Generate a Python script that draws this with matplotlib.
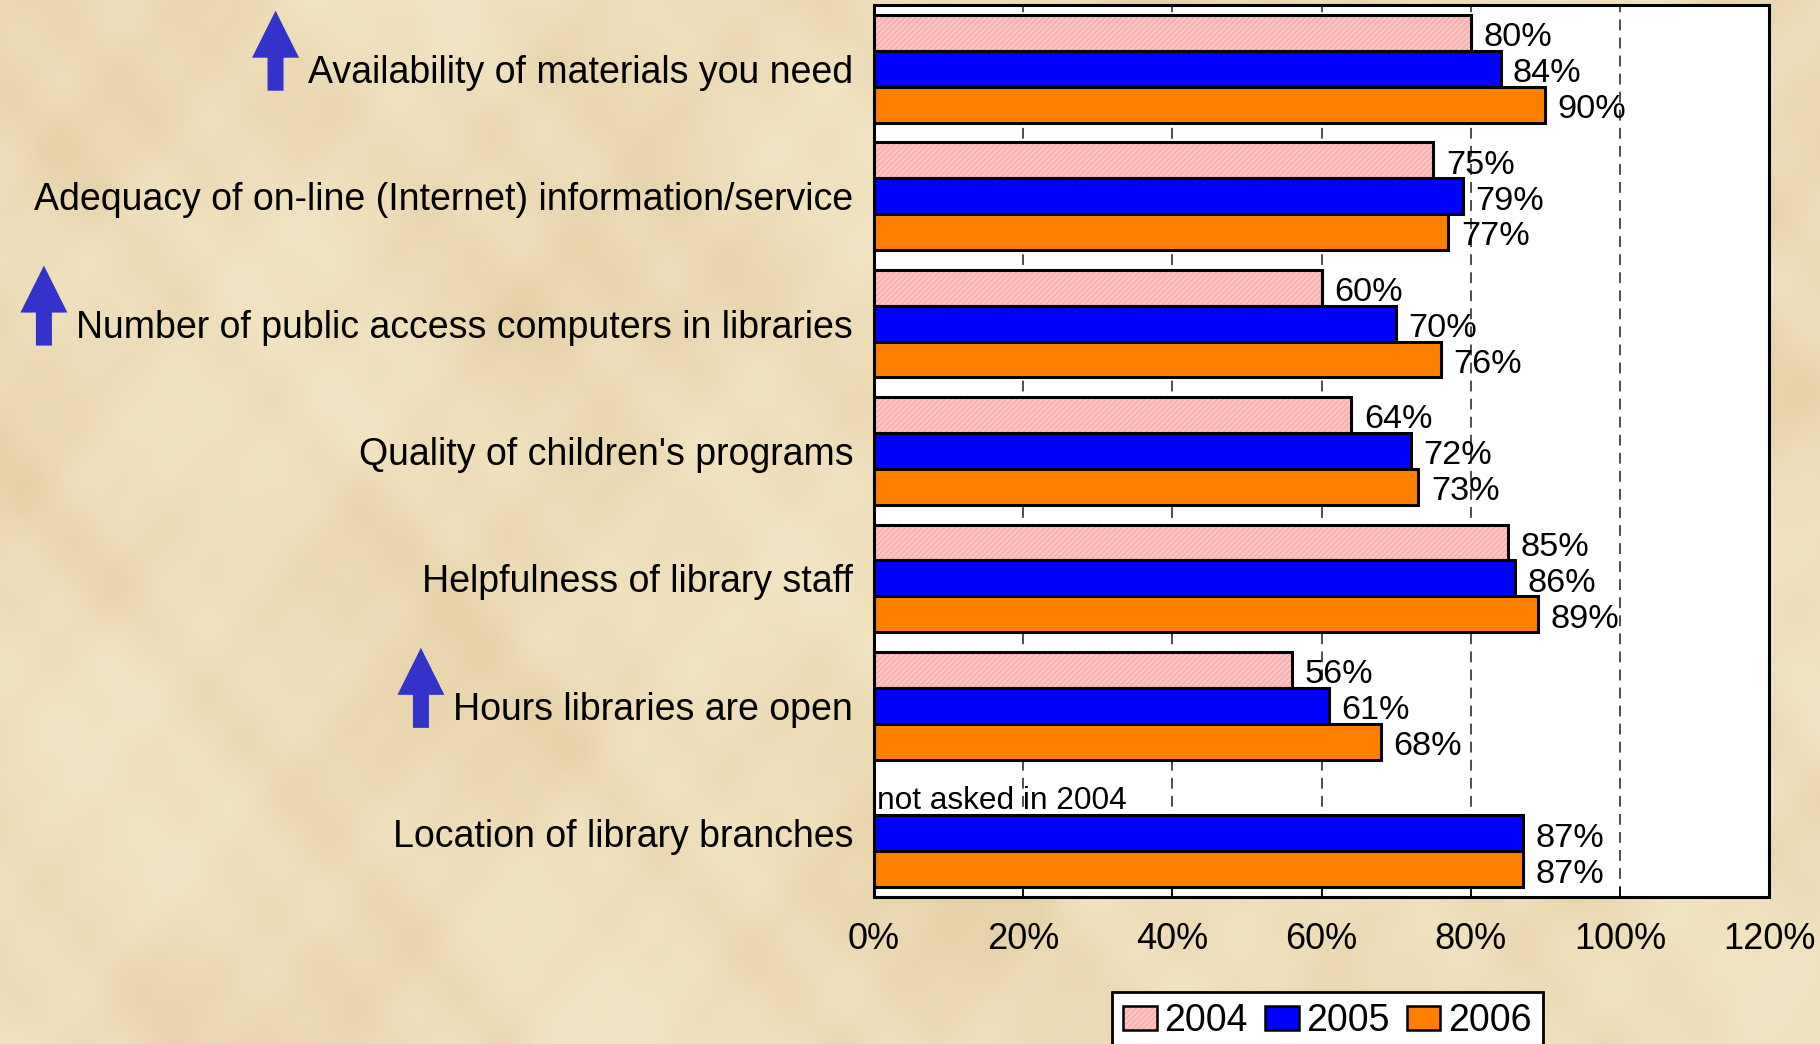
import numpy as np
import matplotlib
matplotlib.use("Agg")
import matplotlib.pyplot as plt
from matplotlib.patches import Patch, Polygon

plt.rcParams['font.family'] = ['Liberation Sans', 'DejaVu Sans']

# --- data -----------------------------------------------------------------
categories = [
    "Availability of materials you need",
    "Adequacy of on-line (Internet) information/service",
    "Number of public access computers in libraries",
    "Quality of children's programs",
    "Helpfulness of library staff",
    "Hours libraries are open",
    "Location of library branches",
]
years = ["2004", "2005", "2006"]
v2004 = [80, 75, 60, 64, 85, 56, np.nan]
v2005 = [84, 79, 70, 72, 86, 61, 87]
v2006 = [90, 77, 76, 73, 89, 68, 87]
improved = [True, False, True, False, False, True, False]
xticks = [0, 20, 40, 60, 80, 100, 120]
missing_note = "not asked in 2004"

# --- style ----------------------------------------------------------------
bg = "#EDDDB8"
pink = "#FFC4C4"
pink_hatch = "#F5ACAC"
blue = "#0000FF"
orange = "#FF8000"
arrow_col = "#3333CC"

W, H = 1820, 1044
fig = plt.figure(figsize=(W / 100, H / 100), dpi=100, facecolor=bg)

# parchment-like mottled backdrop built from overlapping waves
yy, xx = np.mgrid[0:H, 0:W].astype(float)
waves = [(0.011, 0.004, 0.3), (-0.006, 0.013, 1.7), (0.021, -0.017, 2.9),
         (0.033, 0.027, 0.8), (-0.041, 0.036, 4.1), (0.057, -0.049, 5.3),
         (0.003, 0.029, 3.6), (0.074, 0.061, 1.1)]
tex = np.zeros_like(xx)
for k, (fx, fy, ph) in enumerate(waves):
    tex += np.sin(fx * xx + fy * yy + ph) / (1 + 0.35 * k)
tex = (tex - tex.min()) / (tex.max() - tex.min())
light = np.array([243, 229, 196]) / 255
dark = np.array([228, 206, 163]) / 255
img = light + (dark - light) * tex[..., None] ** 1.4
fig.figimage(img, xo=0, yo=0, origin="upper", zorder=-5)

ax = fig.add_axes([874 / W, 1 - 897 / H, (1769 - 874) / W, (897 - 5) / H])
ax.set_facecolor("white")

n = len(categories)
y = np.arange(n)
h = 0.282
lw = 2.2

a = np.array(v2004, dtype=float)
ok = ~np.isnan(a)
# hatched pink layer, then black outline on top
ax.barh(y[ok] - h, a[ok], height=h, color=pink, edgecolor=pink_hatch,
        hatch="//////", linewidth=0, zorder=3)
ax.barh(y[ok] - h, a[ok], height=h, fill=False, edgecolor="black",
        linewidth=lw, zorder=4)
ax.barh(y, v2005, height=h, color=blue, edgecolor="black", linewidth=lw, zorder=3)
ax.barh(y + h, v2006, height=h, color=orange, edgecolor="black", linewidth=lw, zorder=3)

for vals, off in ((v2004, -h), (v2005, 0), (v2006, h)):
    for i, v in enumerate(vals):
        if np.isnan(v):
            continue
        ax.annotate(f"{v:.0f}%", (v, i + off), xytext=(9, -3.5),
                    textcoords="offset points", va="center", ha="left",
                    fontsize=24.7, zorder=5)

for i, v in enumerate(v2004):
    if np.isnan(v):
        ax.annotate(missing_note, (0.4, i - h), xytext=(0, -2.5),
                    textcoords="offset points", va="center", ha="left",
                    fontsize=22.8, zorder=5)

ax.set_xlim(0, 120)
ax.set_ylim(n - 0.5, -0.5)
ax.set_xticks(xticks)
ax.set_xticklabels([f"{t}%" for t in xticks], fontsize=26)
ax.set_yticks(y)
ax.set_yticklabels(categories, fontsize=27)
ax.tick_params(axis="y", length=0, pad=15)
ax.tick_params(axis="x", direction="in", length=7, width=1.2, pad=18)
for s in ax.spines.values():
    s.set_linewidth(lw)
    s.set_color("black")
    s.set_zorder(6)

ax.grid(axis="x", color="#404040", linestyle=(0, (6, 4)), linewidth=1.3, zorder=1)
ax.set_axisbelow(True)

# legend
h04 = (Patch(facecolor=pink, edgecolor=pink_hatch, hatch="//////", linewidth=0),
       Patch(fill=False, edgecolor="black", linewidth=1.8))
h05 = Patch(facecolor=blue, edgecolor="black", linewidth=1.8)
h06 = Patch(facecolor=orange, edgecolor="black", linewidth=1.8)
leg = fig.legend([h04, h05, h06], years, loc="upper left",
                 bbox_to_anchor=(1112 / W, 1 - 992 / H), ncol=3, fontsize=27,
                 frameon=True, fancybox=False, edgecolor="black",
                 handlelength=0.9, handleheight=0.62, handletextpad=0.2,
                 columnspacing=0.45, borderpad=0.3, borderaxespad=0)
leg.get_frame().set_linewidth(2.0)
leg.get_frame().set_facecolor("white")
leg.get_frame().set_alpha(1)

# up arrows beside improved categories
fig.canvas.draw()
renderer = fig.canvas.get_renderer()
labels = ax.get_yticklabels()
for i, flag in enumerate(improved):
    if not flag:
        continue
    bb = labels[i].get_window_extent(renderer)
    yc = ax.transData.transform((0, i))[1]
    right = bb.x0 - 9
    left = right - 47
    mid = (left + right) / 2
    bottom = yc - 22
    top = yc + 58
    base = top - 47
    pts = [(mid - 8, bottom), (mid + 8, bottom), (mid + 8, base), (right, base),
           (mid, top), (left, base), (mid - 8, base)]
    pts = [(px / W, py / H) for px, py in pts]
    fig.add_artist(Polygon(pts, closed=True, facecolor=arrow_col,
                           edgecolor="none", transform=fig.transFigure))

fig.savefig("out.png", dpi=100, facecolor=bg)
